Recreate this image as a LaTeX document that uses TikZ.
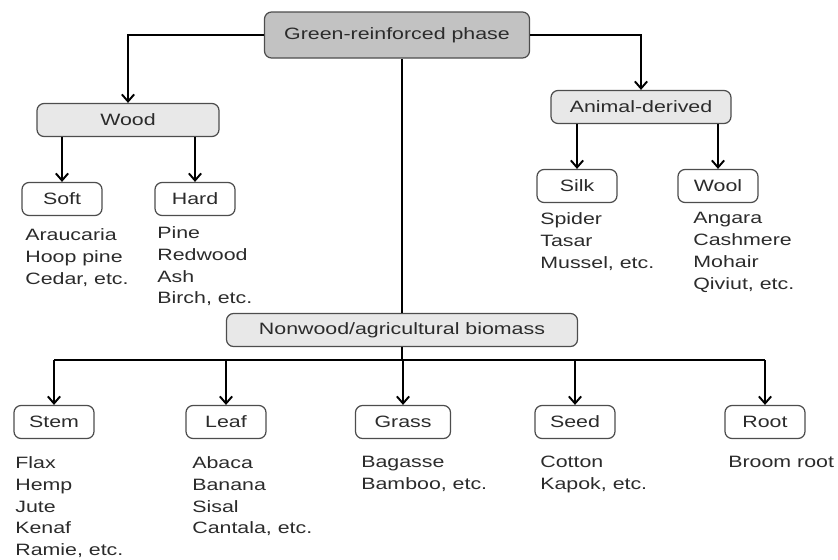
\documentclass[tikz,border=0pt]{standalone}
\usepackage{fontspec}
\setmainfont{Liberation Sans}[FakeStretch=1.3]
\usetikzlibrary{arrows.meta}

\definecolor{boxline}{HTML}{4D4D4D}
\definecolor{rootfill}{HTML}{C2C2C2}
\definecolor{groupfill}{HTML}{E8E8E8}
\definecolor{textgray}{HTML}{2B2B2B}

\begin{document}
\begin{tikzpicture}[
    x=0.02cm, y=-0.02cm,
    % Define Styles
    every node/.style={
        font=\fontsize{9.35}{12.47}\selectfont,
        text=textgray
    },
    rootbox/.style={
        rectangle,
        rounded corners=4pt,
        draw=boxline,
        line width=0.7pt,
        fill=rootfill,
        minimum width=265*0.02cm,
        minimum height=46*0.02cm
    },
    groupbox/.style={
        rectangle,
        rounded corners=4pt,
        draw=boxline,
        line width=0.7pt,
        fill=groupfill,
        minimum height=33*0.02cm
    },
    leafbox/.style={
        rectangle,
        rounded corners=4pt,
        draw=boxline,
        line width=0.7pt,
        fill=white,
        minimum width=80*0.02cm,
        minimum height=33*0.02cm
    },
    examples/.style={
        anchor=north west,
        align=left,
        inner sep=0pt
    },
    link/.style={
        draw,
        line width=1.1pt,
        -{Straight Barb[length=4pt,width=7pt,line width=1.1pt]}
    },
    plainlink/.style={
        draw,
        line width=1.1pt
    }
    ]

    \useasboundingbox (0,0) rectangle (838,559);

    % Top level
    \node[rootbox] (root) at (397,35) {Green-reinforced phase};

    % Wood branch
    \node[groupbox, minimum width=182*0.02cm] (wood) at (128,120) {Wood};
    \node[leafbox] (soft) at (62,199) {Soft};
    \node[leafbox] (hard) at (195,199) {Hard};
    \node[examples] (softlist) at (25,228) {Araucaria\\Hoop pine\\Cedar, etc.};
    \node[examples] (hardlist) at (157,226) {Pine\\Redwood\\Ash\\Birch, etc.};

    % Animal branch
    \node[groupbox, minimum width=180*0.02cm] (animal) at (641,107) {Animal-derived};
    \node[leafbox] (silk) at (577,186) {Silk};
    \node[leafbox] (wool) at (718,186) {Wool};
    \node[examples] (silklist) at (540,212) {Spider\\Tasar\\Mussel, etc.};
    \node[examples] (woollist) at (693,212) {Angara\\Cashmere\\Mohair\\Qiviut, etc.};

    % Nonwood branch
    \node[groupbox, minimum width=351*0.02cm] (nonwood) at (402,330) {Nonwood/agricultural biomass};
    \coordinate (bus) at (402,360);
    \node[leafbox] (stem) at (54,422) {Stem};
    \node[leafbox] (leaf) at (226,422) {Leaf};
    \node[leafbox, minimum width=95*0.02cm] (grass) at (403,422) {Grass};
    \node[leafbox] (seed) at (575,422) {Seed};
    \node[leafbox] (rootpart) at (765,422) {Root};
    \node[examples] (stemlist) at (15,456) {Flax\\Hemp\\Jute\\Kenaf\\Ramie, etc.};
    \node[examples] (leaflist) at (192,456) {Abaca\\Banana\\Sisal\\Cantala, etc.};
    \node[examples] (grasslist) at (361,456) {Bagasse\\Bamboo, etc.};
    \node[examples] (seedlist) at (540,456) {Cotton\\Kapok, etc.};
    \node[examples] (rootlist) at (728,456) {Broom root};

    % Connectors from the top box
    \draw[link] (root.west) -| (wood.north);
    \draw[link] (root.east) -| (animal.north);
    \draw[plainlink] (nonwood.north |- root.south) -- (nonwood.north);

    % Wood and animal children
    \draw[link] (wood.south -| soft.north) -- (soft.north);
    \draw[link] (wood.south -| hard.north) -- (hard.north);
    \draw[link] (animal.south -| silk.north) -- (silk.north);
    \draw[link] (animal.south -| wool.north) -- (wool.north);

    % Nonwood children
    \draw[plainlink] (nonwood.south) -- (bus);
    \draw[plainlink] (bus -| stem.north) -- (bus -| rootpart.north);
    \draw[link] (bus -| stem.north) -- (stem.north);
    \draw[link] (bus -| leaf.north) -- (leaf.north);
    \draw[link] (bus -| grass.north) -- (grass.north);
    \draw[link] (bus -| seed.north) -- (seed.north);
    \draw[link] (bus -| rootpart.north) -- (rootpart.north);

\end{tikzpicture}
\end{document}
